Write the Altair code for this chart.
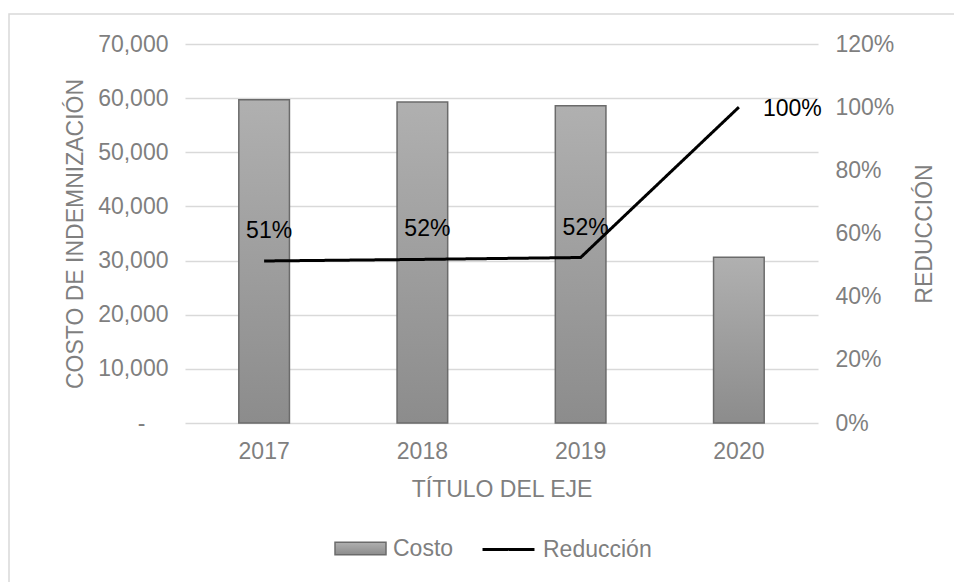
import altair as alt
import pandas as pd

years = ["2017", "2018", "2019", "2020"]
costo = [59700, 59300, 58600, 30600]
reduccion = [0.513, 0.518, 0.524, 1.0]

df = pd.DataFrame({
    "anio": years,
    "costo": costo,
    "reduccion": reduccion,
    "s1": ["Costo"] * 4,
    "s2": ["Reducción"] * 4,
})

FONT = "Liberation Sans"
GRAY = "#7f7f7f"
FS = 23

W, H = 633, 379
PAD_L, PAD_T = 185, 44
PAD_R, PAD_B = 954 - PAD_L - W, 582 - PAD_T - H

xenc = alt.X(
    "anio:N",
    sort=years,
    scale=alt.Scale(paddingInner=0.68, paddingOuter=0.34),
    axis=alt.Axis(title="TÍTULO DEL EJE", labelAngle=0, labelPadding=17, titlePadding=15),
)

gradient = alt.Gradient(
    gradient="linear",
    stops=[alt.GradientStop(color="#b0b0b0", offset=0), alt.GradientStop(color="#8c8c8c", offset=1)],
    x1=0, x2=0, y1=0, y2=1,
)

bars = alt.Chart(df).mark_bar(fill=gradient, strokeWidth=1.5).encode(
    x=xenc,
    y=alt.Y(
        "costo:Q",
        scale=alt.Scale(domain=[0, 70000], nice=False),
        axis=alt.Axis(
            values=list(range(0, 70001, 10000)),
            labelExpr="datum.value == 0 ? '-' : format(datum.value, ',')",
            labelPadding={"condition": {"test": "datum.value == 0", "value": 40}, "value": 17},
            title="COSTO DE INDEMNIZACIÓN",
            grid=True,
            titlePadding=10,
        ),
    ),
    stroke=alt.Stroke(
        "s1:N",
        scale=alt.Scale(domain=["Costo"], range=["#6b6b6b"]),
        legend=alt.Legend(
            title=None, orient="none", legendX=149, legendY=478, direction="horizontal",
            symbolType="M-1,-0.25H1V0.25H-1Z", symbolSize=2600, symbolFillColor="#a0a0a0",
            symbolStrokeWidth=1.5, labelOffset=6, padding=0,
        ),
    ),
)

yline = alt.Scale(domain=[0, 1.2], nice=False)

line = alt.Chart(df).mark_line(color="black", strokeWidth=3).encode(
    x=xenc,
    y=alt.Y(
        "reduccion:Q",
        scale=yline,
        axis=alt.Axis(
            orient="right", format=".0%", values=[0, 0.2, 0.4, 0.6, 0.8, 1.0, 1.2],
            grid=False, title="REDUCCIÓN", titleAngle=270, labelPadding=17, titlePadding=43,
        ),
    ),
    strokeDash=alt.StrokeDash(
        "s2:N",
        scale=alt.Scale(domain=["Reducción"], range=[[1, 0]]),
        legend=alt.Legend(
            title=None, orient="none", legendX=296, legendY=478, direction="horizontal",
            symbolType="stroke", symbolSize=2700, symbolStrokeColor="black",
            symbolStrokeWidth=3, labelOffset=7, padding=0,
        ),
    ),
)

lab_above = alt.Chart(df).transform_filter("datum.anio != '2020'").mark_text(
    dy=-30, dx=5, fontSize=FS, font=FONT, color="black"
).encode(
    x=xenc,
    y=alt.Y("reduccion:Q", scale=yline, axis=None),
    text=alt.Text("reduccion:Q", format=".0%"),
)

lab_right = alt.Chart(df).transform_filter("datum.anio == '2020'").mark_text(
    dx=24, dy=2, align="left", fontSize=FS, font=FONT, color="black"
).encode(
    x=xenc,
    y=alt.Y("reduccion:Q", scale=yline, axis=None),
    text=alt.Text("reduccion:Q", format=".0%"),
)

frame = alt.Chart(pd.DataFrame({"k": [0]})).mark_rect(
    filled=False, stroke="#d9d9d9", strokeWidth=1.5
).encode(
    x=alt.value(9 - PAD_L), y=alt.value(14 - PAD_T),
    x2=alt.value(W + PAD_R + 20), y2=alt.value(H + PAD_B + 20),
)

chart = alt.layer(frame, bars, line, lab_above, lab_right).resolve_scale(
    y="independent", stroke="independent", strokeDash="independent"
).properties(
    width=W, height=H,
    autosize=alt.AutoSizeParams(type="none"),
    padding={"left": PAD_L, "top": PAD_T, "right": PAD_R, "bottom": PAD_B},
    background="white",
).configure_view(strokeWidth=0).configure_axis(
    labelFont=FONT, titleFont=FONT, labelFontSize=FS, titleFontSize=FS,
    labelColor=GRAY, titleColor=GRAY, titleFontWeight="normal",
    ticks=False, domain=False, gridColor="#d9d9d9", gridWidth=1.5,
).configure_legend(
    labelFont=FONT, labelFontSize=FS, labelColor=GRAY,
)

chart.save("out.html", embed_options={"renderer": "svg", "actions": False})
